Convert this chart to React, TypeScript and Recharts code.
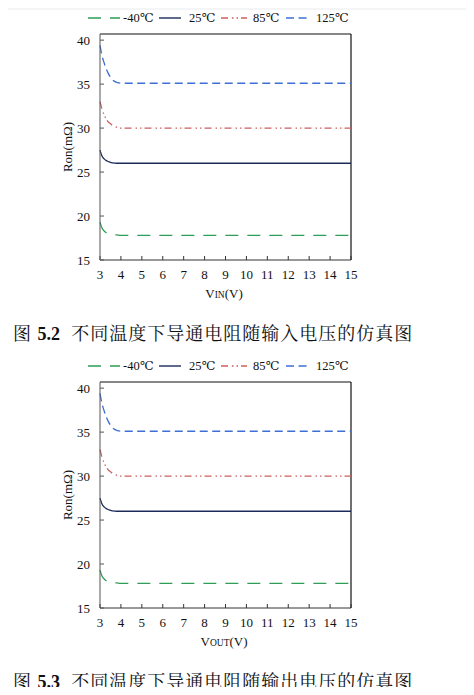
import React from "react";
import { LineChart, Line, XAxis, YAxis, ReferenceLine } from "recharts";

// x positions (V) – dense near 3 V where the curves bend
const volts = [3, 3.1, 3.2, 3.3, 3.4, 3.5, 3.6, 3.8, 4, 4.5, 5, 6, 7, 8, 9, 10, 11, 12, 13, 14, 15];

// Ron (mΩ) per temperature
const ronM40 = [19.3, 18.6, 18.3, 18.1, 18.0, 17.95, 17.9, 17.85, 17.8, 17.8, 17.8, 17.8, 17.8, 17.8, 17.8, 17.8, 17.8, 17.8, 17.8, 17.8, 17.8];
const ron25 = [27.5, 26.8, 26.5, 26.3, 26.2, 26.1, 26.05, 26.0, 26.0, 26.0, 26.0, 26.0, 26.0, 26.0, 26.0, 26.0, 26.0, 26.0, 26.0, 26.0, 26.0];
const ron85 = [33.0, 32.1, 31.5, 31.0, 30.7, 30.5, 30.3, 30.1, 30.0, 30.0, 30.0, 30.0, 30.0, 30.0, 30.0, 30.0, 30.0, 30.0, 30.0, 30.0, 30.0];
const ron125 = [39.4, 38.2, 37.4, 36.7, 36.2, 35.8, 35.5, 35.2, 35.1, 35.1, 35.1, 35.1, 35.1, 35.1, 35.1, 35.1, 35.1, 35.1, 35.1, 35.1, 35.1];

const xTicks = [3, 4, 5, 6, 7, 8, 9, 10, 11, 12, 13, 14, 15];
const yTicks = [15, 20, 25, 30, 35, 40];
const yMax = 40.7;

const series = [
  { key: "m40", name: "-40℃", color: "#2e9e57", dash: "13 9", values: ronM40 },
  { key: "t25", name: "25℃", color: "#1c2b5a", dash: undefined, values: ron25 },
  { key: "t85", name: "85℃", color: "#cf5f5f", dash: "7 4 1.5 3 1.5 3", values: ron85 },
  { key: "t125", name: "125℃", color: "#3f6fd4", dash: "8 4.5", values: ron125 },
];

const data = volts.map((v, i) => {
  const row: Record<string, number> = { v };
  series.forEach((s) => (row[s.key] = s.values[i]));
  return row;
});

const serif = '"Liberation Serif", "DejaVu Serif", serif';
const cjk = '"Noto Serif CJK SC", "Noto Sans CJK SC", serif';

function LegendRow() {
  const samples = [
    { w: 32, gap: 3, textW: 30 },
    { w: 22, gap: 8, textW: 26 },
    { w: 26, gap: 6, textW: 27 },
    { w: 24, gap: 6, textW: 32 },
  ];
  return (
    <div style={{ position: "absolute", left: 88, top: 10, display: "flex", alignItems: "center", fontFamily: serif, fontSize: 12.5, color: "#111" }}>
      {series.map((s, i) => (
        <div key={s.key} style={{ display: "flex", alignItems: "center", marginRight: 6 }}>
          <svg width={samples[i].w} height={14} style={{ marginRight: samples[i].gap }}>
            <line x1={0} x2={samples[i].w} y1={7} y2={7} stroke={s.color} strokeWidth={1.4} strokeDasharray={s.dash} />
          </svg>
          <span style={{ width: samples[i].textW }}>{s.name}</span>
        </div>
      ))}
    </div>
  );
}

function RonChart({ top, sub, figNo, caption }: { top: number; sub: string; figNo: string; caption: string }) {
  return (
    <div style={{ position: "absolute", left: 0, top, width: 474, height: 347 }}>
      <LegendRow />
      <LineChart width={474} height={300} data={data} margin={{ top: 34, right: 123, left: 70, bottom: 10 }}>
        <XAxis
          dataKey="v"
          type="number"
          domain={[3, 15]}
          ticks={xTicks}
          interval={0}
          height={30}
          tickSize={-4}
          tickMargin={14}
          stroke="#333"
          tick={{ fill: "#111", fontSize: 13, fontFamily: serif }}
        />
        <YAxis
          domain={[15, yMax]}
          ticks={yTicks}
          width={30}
          tickSize={-4}
          tickMargin={14}
          stroke="#555"
          tick={{ fill: "#111", fontSize: 13, fontFamily: serif }}
        />
        {/* box frame: top and right edges */}
        <ReferenceLine y={yMax} stroke="#111" strokeWidth={1.2} />
        <ReferenceLine x={15} stroke="#111" strokeWidth={1.2} />
        {series.map((s) => (
          <Line
            key={s.key}
            dataKey={s.key}
            type="monotone"
            stroke={s.color}
            strokeWidth={1.3}
            strokeDasharray={s.dash}
            dot={false}
            isAnimationActive={false}
          />
        ))}
      </LineChart>
      <div
        style={{
          position: "absolute",
          left: 68,
          top: 147,
          transform: "translate(-50%, -50%) rotate(-90deg)",
          fontFamily: serif,
          fontSize: 13,
          color: "#111",
          whiteSpace: "nowrap",
        }}
      >
        Ron(mΩ)
      </div>
      <div style={{ position: "absolute", left: 224, top: 294, transform: "translate(-50%, -50%)", fontFamily: serif, fontSize: 13, color: "#111", whiteSpace: "nowrap" }}>
        V<span style={{ fontSize: 9.5 }}>{sub}</span>(V)
      </div>
      <div style={{ position: "absolute", left: 13, top: 322, fontSize: 18, lineHeight: "20px", letterSpacing: 1, color: "#111", whiteSpace: "nowrap", fontFamily: cjk }}>
        图 <b style={{ fontFamily: serif, letterSpacing: 0 }}>{figNo}</b>&nbsp; {caption}
      </div>
    </div>
  );
}

export default function App() {
  return (
    <div style={{ position: "relative", width: 474, height: 695, margin: -8, background: "#fff", overflow: "hidden" }}>
      <div style={{ position: "absolute", left: 0, top: 0, width: 474, height: 10, background: "#f4f5f6" }} />
      <RonChart top={0} sub="IN" figNo="5.2" caption="不同温度下导通电阻随输入电压的仿真图" />
      <RonChart top={348} sub="OUT" figNo="5.3" caption="不同温度下导通电阻随输出电压的仿真图" />
    </div>
  );
}
